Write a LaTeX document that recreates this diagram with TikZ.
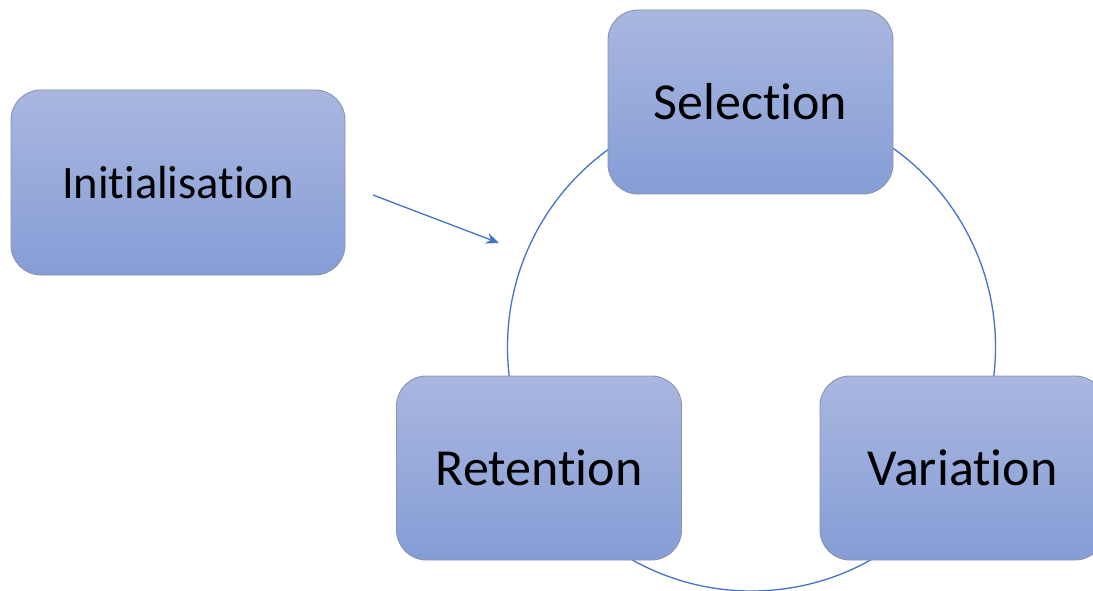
\documentclass[tikz,border=0pt]{standalone}
\usepackage{fontspec}
\setmainfont{Carlito}[RawFeature=-liga]
\usetikzlibrary{arrows.meta}
\definecolor{linkblue}{HTML}{4472C4}
\definecolor{boxtop}{HTML}{A9B7E0}
\definecolor{boxbot}{HTML}{859DD6}
\definecolor{boxedge}{HTML}{8A93AC}
\tikzset{
  stage/.style={rectangle, rounded corners=30pt, draw=boxedge, line width=0.9pt,
    top color=boxtop, bottom color=boxbot, minimum width=285pt, minimum height=184pt,
    inner sep=0pt, font=\fontsize{52}{60}\selectfont},
  loop/.style={draw=linkblue, line width=1.3pt},
  link/.style={draw=linkblue, line width=1.3pt, -{Stealth[length=13pt,width=11pt]}}
}
\begin{document}
\begin{tikzpicture}[x=1pt,y=-1pt]
\useasboundingbox (0,0) rectangle (1093,591);
\clip (0,0) rectangle (1093,591);
% the cycle behind the three stages
\node[loop, circle, minimum size=488pt, inner sep=0pt] (cyc) at (751.5,347) {};
% stages
\node[stage, minimum width=334pt, minimum height=185pt, font=\fontsize{46.5}{54}\selectfont] (init) at (178,182.5) {Initialisation};
\node[stage] (sel) at (750.5,102) {Selection};
\node[stage] (ret) at (539,468) {Retention};
\node[stage] (var) at (962.5,468) {Variation};
% entry into the cycle
\coordinate (from) at (373,195);
\coordinate (into) at (499,243);
\draw[link] (from) -- (into);
\end{tikzpicture}
\end{document}
